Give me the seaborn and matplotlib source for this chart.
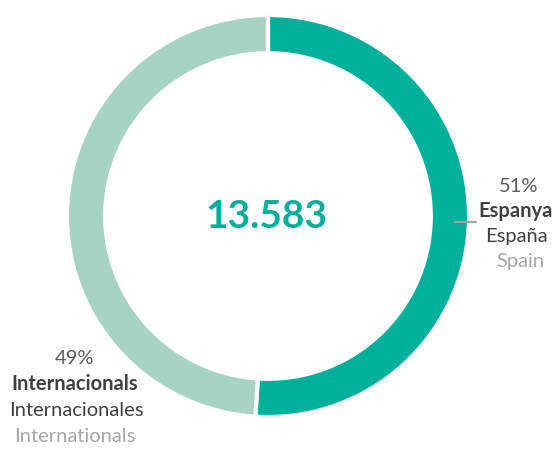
import matplotlib.pyplot as plt
import seaborn as sns

# Dades del gràfic
segments = ["Espanya", "Internacionals"]
percentatges = [51, 49]
total = "13.583"
etiquetes_ca = ["Espanya", "Internacionals"]
etiquetes_es = ["España", "Internacionales"]
etiquetes_en = ["Spain", "Internationals"]

colors = ["#00B09B", "#A6D3C3"]

sns.set_theme(style="white")
plt.rcParams["font.family"] = ["Lato", "DejaVu Sans"]

W, H = 558, 449
fig = plt.figure(figsize=(W / 100, H / 100), dpi=100)
cx, cy, r = 268, 216, 201
ax = fig.add_axes([(cx - r) / W, (H - cy - r) / H, 2 * r / W, 2 * r / H])

ax.pie(percentatges, colors=colors, startangle=90, counterclock=False, radius=1,
       wedgeprops=dict(width=0.19, edgecolor="white", linewidth=3))
ax.set_xlim(-1, 1)
ax.set_ylim(-1, 1)
ax.set_aspect("equal")
ax.axis("off")

ax.text(-0.01, 0.0, total, ha="center", va="center", fontsize=28, fontweight="bold", color="#00B09B")

def px(x, y):
    return x / W, 1 - y / H

fs = 14.5

# Etiqueta dreta (Espanya)
fig.text(*px(519, 186), f"{percentatges[0]}%", ha="center", va="center", fontsize=fs, color="#595959")
fig.text(*px(516, 211), etiquetes_ca[0], ha="center", va="center", fontsize=fs, fontweight="bold", color="#404040")
fig.text(*px(516, 237), etiquetes_es[0], ha="center", va="center", fontsize=fs, color="#404040")
fig.text(*px(520, 262), etiquetes_en[0], ha="center", va="center", fontsize=fs, color="#A6A6A6")
fig.add_artist(plt.Line2D([455 / W, 476 / W], [1 - 222 / H, 1 - 222 / H], color="#A6A6A6", linewidth=1.5))

# Etiqueta esquerra (Internacionals)
fig.text(*px(75, 358), f"{percentatges[1]}%", ha="center", va="center", fontsize=fs, color="#595959")
fig.text(*px(75, 384), etiquetes_ca[1], ha="center", va="center", fontsize=fs, fontweight="bold", color="#404040")
fig.text(*px(76, 410), etiquetes_es[1], ha="center", va="center", fontsize=fs, color="#404040")
fig.text(*px(75, 436), etiquetes_en[1], ha="center", va="center", fontsize=fs, color="#A6A6A6")

fig.savefig("out.png", dpi=100, facecolor="white")
